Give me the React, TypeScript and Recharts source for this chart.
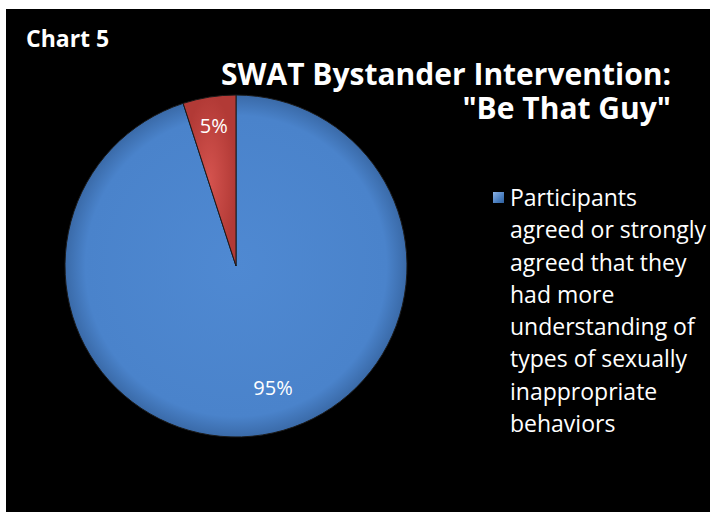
import React from 'react';
import { PieChart, Pie, Cell, Legend } from 'recharts';

// values
const categories = [
    'Participants agreed or strongly agreed that they had more understanding of types of sexually inappropriate behaviors',
    'Other',
];
const percents = [95, 5];
const sliceColors = ['url(#blueFill)', 'url(#redFill)'];
const legendLines = [
    'Participants',
    'agreed or strongly',
    'agreed that they',
    'had more',
    'understanding of',
    'types of sexually',
    'inappropriate',
    'behaviors',
];

const chartData = categories.map((name, i) => ({ name, value: percents[i] }));

const RADIAN = Math.PI / 180;

const renderLabel = (props: any) => {
    const { cx, cy, midAngle, outerRadius, index, value } = props;
    const r = outerRadius * (index === 0 ? 0.74 : 0.83);
    const angle = index === 0 ? midAngle + 8 : midAngle;
    const x = cx + r * Math.cos(-angle * RADIAN);
    const y = cy + r * Math.sin(-angle * RADIAN);
    return (
        <text x={x} y={y} fill="#ffffff" fontSize={20} fontFamily="Open Sans" textAnchor="middle" dominantBaseline="central">
            {`${value}%`}
        </text>
    );
};

const renderLegend = () => (
    <div style={{ display: 'flex', alignItems: 'flex-start', fontFamily: 'Open Sans', color: '#ffffff' }}>
        <div
            style={{
                width: 11,
                height: 11,
                marginTop: 11,
                marginRight: 6,
                background: 'linear-gradient(135deg, #8db3e6 0%, #4a7ebf 60%, #2f5f9c 100%)',
            }}
        />
        <div style={{ fontSize: 23, lineHeight: '32.3px', whiteSpace: 'nowrap' }}>
            {legendLines.map((line) => (
                <div key={line}>{line}</div>
            ))}
        </div>
    </div>
);

const App: React.FC = () => {
    return (
        <div style={{ position: 'absolute', left: 6, top: 9, width: 704, height: 503, background: '#000000' }}>
            <div style={{ position: 'absolute', left: 20, top: 14, color: '#fff', fontFamily: 'Open Sans', fontWeight: 700, fontSize: 23, lineHeight: '30px' }}>
                Chart 5
            </div>
            <div
                style={{
                    position: 'absolute',
                    right: 39,
                    top: 48,
                    color: '#fff',
                    fontFamily: 'Open Sans',
                    fontWeight: 700,
                    fontSize: 30,
                    lineHeight: '34px',
                    textAlign: 'right',
                    whiteSpace: 'nowrap',
                }}
            >
                <div>SWAT Bystander Intervention:</div>
                <div>"Be That Guy"</div>
            </div>
            <PieChart width={704} height={503} margin={{ top: 0, right: 0, bottom: 0, left: 0 }}>
                <defs>
                    <radialGradient id="blueFill" cx="50%" cy="50%" r="50%">
                        <stop offset="0%" stopColor="#4f89d2" />
                        <stop offset="88%" stopColor="#4a83cb" />
                        <stop offset="100%" stopColor="#3a6aa8" />
                    </radialGradient>
                    <radialGradient id="redFill" cx="50%" cy="50%" r="50%">
                        <stop offset="0%" stopColor="#d4534e" />
                        <stop offset="100%" stopColor="#b23a36" />
                    </radialGradient>
                </defs>
                <Pie
                    data={chartData}
                    dataKey="value"
                    nameKey="name"
                    cx={230}
                    cy={257}
                    outerRadius={171}
                    startAngle={90}
                    endAngle={-270}
                    stroke="#1a1a1a"
                    strokeWidth={1}
                    label={renderLabel}
                    labelLine={false}
                    isAnimationActive={false}
                >
                    {chartData.map((entry, index) => (
                        <Cell key={`cell-${index}`} fill={sliceColors[index]} />
                    ))}
                </Pie>
                <Legend
                    content={renderLegend}
                    wrapperStyle={{ position: 'absolute', left: 487, top: 172, width: 230, bottom: 'auto' }}
                />
            </PieChart>
        </div>
    );
};

export default App;
